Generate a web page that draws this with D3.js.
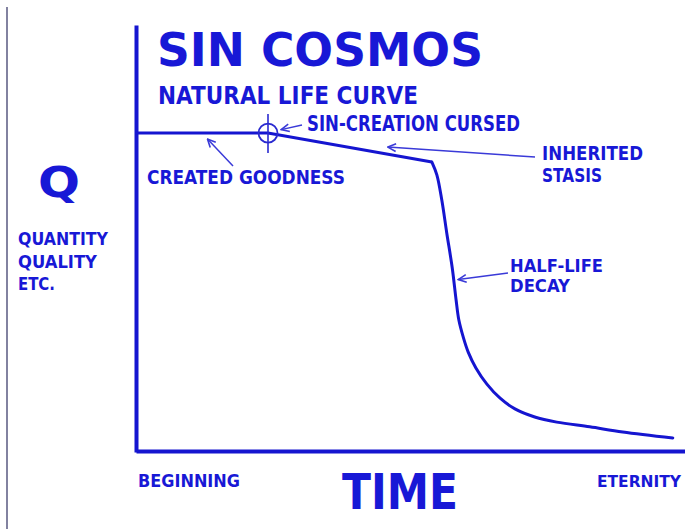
<!DOCTYPE html>
<html>
<head>
<meta charset="utf-8">
<script src="https://cdn.jsdelivr.net/npm/d3@7"></script>
<style>
  body { margin: 0; background: #fff; }
  text { font-family: "DejaVu Sans", sans-serif; font-weight: bold; fill: #1818d6; }
  text.narrow { font-family: "DejaVu Sans Condensed", "DejaVu Sans", sans-serif; }
</style>
</head>
<body>
<div class="plot"></div>
<script>
// Curve data (time 0..100, Q 0..100)
var stasisTime = [0, 24, 53.8];
var stasisQ = [74.7, 74.7, 67.9];
var decayTime = [53.8, 54.7, 55.6, 56.5, 57.5, 58.2, 58.7, 59.5, 60.4, 61.8, 63.8, 66.2, 68.9, 72.5, 76.5, 82.5, 88.5, 97.6];
var decayQ = [67.9, 64.9, 59.0, 51.3, 43.1, 35.6, 30.9, 26.9, 23.4, 19.7, 15.9, 12.6, 10.1, 8.2, 7.0, 5.9, 4.7, 3.3];
var cursedTime = 24;
var timeLabels = ["BEGINNING", "ETERNITY"];
var qLabels = ["QUANTITY", "QUALITY", "ETC."];

var outerWidth = 685,
    outerHeight = 529,
    blue = "#1515d0";

// Create canvas
var canvas = d3.select(".plot")
    .append("svg")
    .attr("width", outerWidth)
    .attr("height", outerHeight);

canvas.append("rect")
    .attr("width", "100%")
    .attr("height", "100%")
    .attr("fill", "white");

// gray border on the left
canvas.append("line")
    .attr("x1", 7).attr("x2", 7)
    .attr("y1", 7).attr("y2", outerHeight)
    .attr("stroke", "#8282a0")
    .attr("stroke-width", 2);

// Scales
var xScale = d3.scaleLinear().domain([0, 100]).range([136, 686]);
var yScale = d3.scaleLinear().domain([0, 100]).range([452, 25]);

// Axes with no ticks, only the heavy domain line
var yAxis = d3.axisLeft(yScale).ticks(0).tickSizeOuter(0);
var xAxis = d3.axisBottom(xScale).ticks(0).tickSizeOuter(0);

canvas.append("g")
    .attr("transform", "translate(" + xScale(0) + ",0)")
    .call(yAxis)
    .select(".domain")
    .attr("stroke", blue)
    .attr("stroke-width", 4);

canvas.append("g")
    .attr("transform", "translate(0," + (yScale(0) - 1) + ")")
    .call(xAxis)
    .select(".domain")
    .attr("stroke", blue)
    .attr("stroke-width", 4);

// Life curve
var stasis = stasisTime.map((t, i) => [t, stasisQ[i]]);
var decay = decayTime.map((t, i) => [t, decayQ[i]]);

var straight = d3.line()
    .x(d => xScale(d[0]))
    .y(d => yScale(d[1]));
var smooth = d3.line()
    .x(d => xScale(d[0]))
    .y(d => yScale(d[1]))
    .curve(d3.curveCatmullRom.alpha(0.5));

canvas.append("path")
    .attr("d", straight(stasis))
    .attr("fill", "none")
    .attr("stroke", blue)
    .attr("stroke-width", 3)
    .attr("stroke-linejoin", "miter");

canvas.append("path")
    .attr("d", smooth(decay))
    .attr("fill", "none")
    .attr("stroke", blue)
    .attr("stroke-width", 3)
    .attr("stroke-linecap", "round");

// Crosshair where the curse hits
var cx = xScale(cursedTime), cy = yScale(stasisQ[1]);
canvas.append("circle")
    .attr("cx", cx).attr("cy", cy).attr("r", 9.5)
    .attr("fill", "none")
    .attr("stroke", "#2a2ad0")
    .attr("stroke-width", 1.8);
canvas.append("line")
    .attr("x1", cx).attr("x2", cx)
    .attr("y1", cy - 19).attr("y2", cy + 20)
    .attr("stroke", "#2a2ad0")
    .attr("stroke-width", 1.6);

// Arrow marker
canvas.append("defs").append("marker")
    .attr("id", "arrow")
    .attr("viewBox", "-10 -5 11 10")
    .attr("refX", 0).attr("refY", 0)
    .attr("markerWidth", 11).attr("markerHeight", 10)
    .attr("markerUnits", "userSpaceOnUse")
    .attr("orient", "auto")
    .append("path")
    .attr("d", "M-8,-3.8L0,0L-8,3.8")
    .attr("fill", "none")
    .attr("stroke", "#3a3ad8")
    .attr("stroke-width", 1.6);

// annotation arrows: from x,y -> to time, Q
function arrow(x1, y1, t, q) {
    canvas.append("line")
        .attr("x1", x1).attr("y1", y1)
        .attr("x2", xScale(t)).attr("y2", yScale(q))
        .attr("stroke", "#3a3ad8")
        .attr("stroke-width", 1.5)
        .attr("marker-end", "url(#arrow)");
}
arrow(233, 166, 13, 73.3);
arrow(302, 125, 26.4, 75.5);
arrow(535, 157, 45.8, 71.4);
arrow(508, 273, 58.6, 40.4);

// texts
function label(txt, x, y, size, len, cls) {
    canvas.append("text")
        .attr("class", cls || null)
        .attr("x", x).attr("y", y)
        .style("font-size", size + "px")
        .attr("textLength", len)
        .attr("lengthAdjust", "spacingAndGlyphs")
        .text(txt);
}

label("SIN COSMOS", 157, 66, 46, 326);
label("NATURAL LIFE CURVE", 158, 104, 24, 260);
label("SIN-CREATION CURSED", 307, 131, 21, 213);
label("CREATED GOODNESS", 147, 184, 20, 198);
label("INHERITED", 542, 160, 19, 101);
label("STASIS", 542, 182, 19, 60);
label("HALF-LIFE", 510, 272, 18, 93);
label("DECAY", 510, 292, 18, 60);
label("Q", 38, 197, 42, 42);

var qLens = [90, 79, 37];
qLabels.forEach((t, i) => label(t, 18, 245 + i * 22.5, 17, qLens[i]));

label(timeLabels[0], 138, 487, 17, 102);
label(timeLabels[1], 597, 487, 16, 84, "narrow");
label("TIME", 342, 509, 50, 116);
</script>
</body>
</html>
